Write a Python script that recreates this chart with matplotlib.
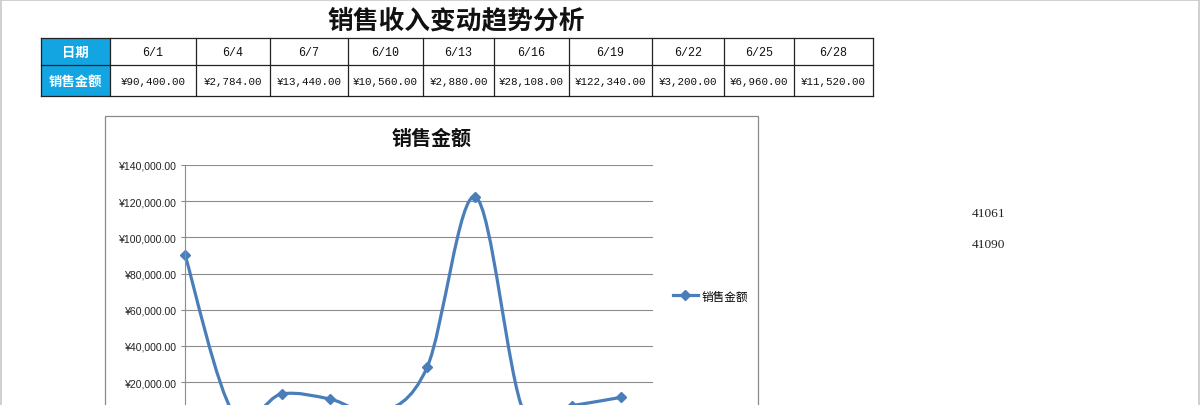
import matplotlib
matplotlib.use("Agg")
import matplotlib.pyplot as plt
from matplotlib.path import Path
from matplotlib.patches import PathPatch, Rectangle
from matplotlib.lines import Line2D
from matplotlib.ticker import FuncFormatter

# ---- data ----
dates = ["6/1", "6/4", "6/7", "6/10", "6/13", "6/16", "6/19", "6/22", "6/25", "6/28"]
sales = [90400, 2784, 13440, 10560, 2880, 28108, 122340, 3200, 6960, 11520]
axis_min_serial = 41061   # 2012-06-01
axis_max_serial = 41090   # 2012-06-30
y_ticks = [20000, 40000, 60000, 80000, 100000, 120000, 140000]
sheet_title = "销售收入变动趋势分析"
row_headers = ["日期", "销售金额"]
series_name = "销售金额"

CJK = ["Noto Sans CJK SC", "DejaVu Sans"]
MONO = ["Liberation Mono", "Noto Sans CJK SC"]
LINE_BLUE = "#4A7EBB"
HEAD_BLUE = "#12A5E2"

W, H = 1200, 406
fig = plt.figure(figsize=(W / 100, H / 100), dpi=100)

# sheet layer in pixel coordinates
sheet = fig.add_axes([0, 0, 1, 1])
sheet.set_xlim(0, W)
sheet.set_ylim(H, 0)
sheet.axis("off")

# outer frame of the screenshot
for xs, ys in [([0, W], [0.5, 0.5]), ([0.5, 0.5], [0, H]), ([W - 1.5, W - 1.5], [0, H])]:
    sheet.plot(xs, ys, color="#c8c8c8", lw=1.2)

sheet.text(456, 21, sheet_title, ha="center", va="center", fontsize=18.5,
           fontweight="bold", family=CJK, color="#111111")

# table
col_edges = [41, 110, 196, 270, 348, 423, 494, 569, 652, 724, 794, 873]
row_edges = [39, 66, 97]
sheet.add_patch(Rectangle((col_edges[0], row_edges[0]), col_edges[1] - col_edges[0],
                          row_edges[2] - row_edges[0], color=HEAD_BLUE, lw=0))
for y in row_edges:
    sheet.plot([col_edges[0], col_edges[-1]], [y, y], color="#222222", lw=0.9)
for x in col_edges:
    sheet.plot([x, x], [row_edges[0], row_edges[-1]], color="#222222", lw=0.9)

for r, label in enumerate(row_headers):
    yc = (row_edges[r] + row_edges[r + 1]) / 2
    sheet.text((col_edges[0] + col_edges[1]) / 2, yc, label, ha="center", va="center",
               fontsize=9.6, fontweight="bold", color="white", family=CJK)

for i, (d, v) in enumerate(zip(dates, sales)):
    xc = (col_edges[i + 1] + col_edges[i + 2]) / 2
    sheet.text(xc, (row_edges[0] + row_edges[1]) / 2 + 0.5, d, ha="center", va="center",
               fontsize=8.4, family=MONO, color="#111111")
    sheet.text(xc, (row_edges[1] + row_edges[2]) / 2 + 0.5, "¥{:,.2f}".format(v),
               ha="center", va="center", fontsize=7.8, family=MONO, color="#111111")

# axis bound cells on the right
sheet.text(972, 214, str(axis_min_serial), ha="left", va="center", fontsize=9.6,
           family=["Liberation Serif"], color="#222222")
sheet.text(972, 245, str(axis_max_serial), ha="left", va="center", fontsize=9.6,
           family=["Liberation Serif"], color="#222222")

# chart frame
sheet.add_patch(Rectangle((104.5, 116.5), 758 - 104.5, 400, fill=False,
                          edgecolor="#8a8a8a", lw=0.9))
sheet.text(432, 138, series_name, ha="center", va="center", fontsize=14.4,
           fontweight="bold", family=CJK, color="#111111")

# ---- chart ----
px_left, px_right = 185, 653
px_top, px_zero = 166, 419.2
ax = fig.add_axes([px_left / W, 1 - px_zero / H, (px_right - px_left) / W,
                   (px_zero - px_top) / H])
ax.patch.set_alpha(0)

days = [int(d.split("/")[1]) for d in dates]
ax.set_xlim(1, 1 + axis_max_serial - axis_min_serial)
ax.set_ylim(0, 140000)
ax.set_yticks(y_ticks)
ax.yaxis.set_major_formatter(FuncFormatter(lambda v, _: "¥{:,.2f}".format(v)))
ax.grid(axis="y", color="#8c8c8c", lw=0.8)
ax.set_axisbelow(True)
for s in ["top", "right", "bottom"]:
    ax.spines[s].set_visible(False)
ax.spines["left"].set_color("#8c8c8c")
ax.spines["left"].set_linewidth(0.8)
ax.tick_params(axis="y", length=3, width=0.8, color="#8c8c8c", pad=3,
               labelsize=7.6, labelcolor="#222222")
for lab in ax.get_yticklabels():
    lab.set_family(["Liberation Sans"])
ax.set_xticks([])

# smoothed line (Excel style bezier through the points)
pts = list(zip(days, sales))
n = len(pts)
verts = [pts[0]]
codes = [Path.MOVETO]
for i in range(n - 1):
    p0 = pts[max(i - 1, 0)]
    p1 = pts[i]
    p2 = pts[i + 1]
    p3 = pts[min(i + 2, n - 1)]
    c1 = (p1[0] + (p2[0] - p0[0]) / 6, p1[1] + (p2[1] - p0[1]) / 6)
    c2 = (p2[0] - (p3[0] - p1[0]) / 6, p2[1] - (p3[1] - p1[1]) / 6)
    verts += [c1, c2, p2]
    codes += [Path.CURVE4] * 3
ax.add_patch(PathPatch(Path(verts, codes), fill=False, edgecolor=LINE_BLUE, lw=2.3,
                       capstyle="round", joinstyle="round"))
ax.plot(days, sales, linestyle="none", marker="D", markersize=5.5, color=LINE_BLUE,
        clip_on=False)

handle = Line2D([], [], color=LINE_BLUE, lw=2.3, marker="D", markersize=5.5)
ax.legend([handle], [series_name], loc="center left",
          bbox_to_anchor=((673 - px_left) / (px_right - px_left),
                          (px_zero - 297) / (px_zero - px_top)),
          frameon=False, borderpad=0, borderaxespad=0, handlelength=2.1,
          handletextpad=0.35, prop={"family": CJK, "size": 8.4})

fig.savefig("out.png", dpi=100, facecolor="white")
